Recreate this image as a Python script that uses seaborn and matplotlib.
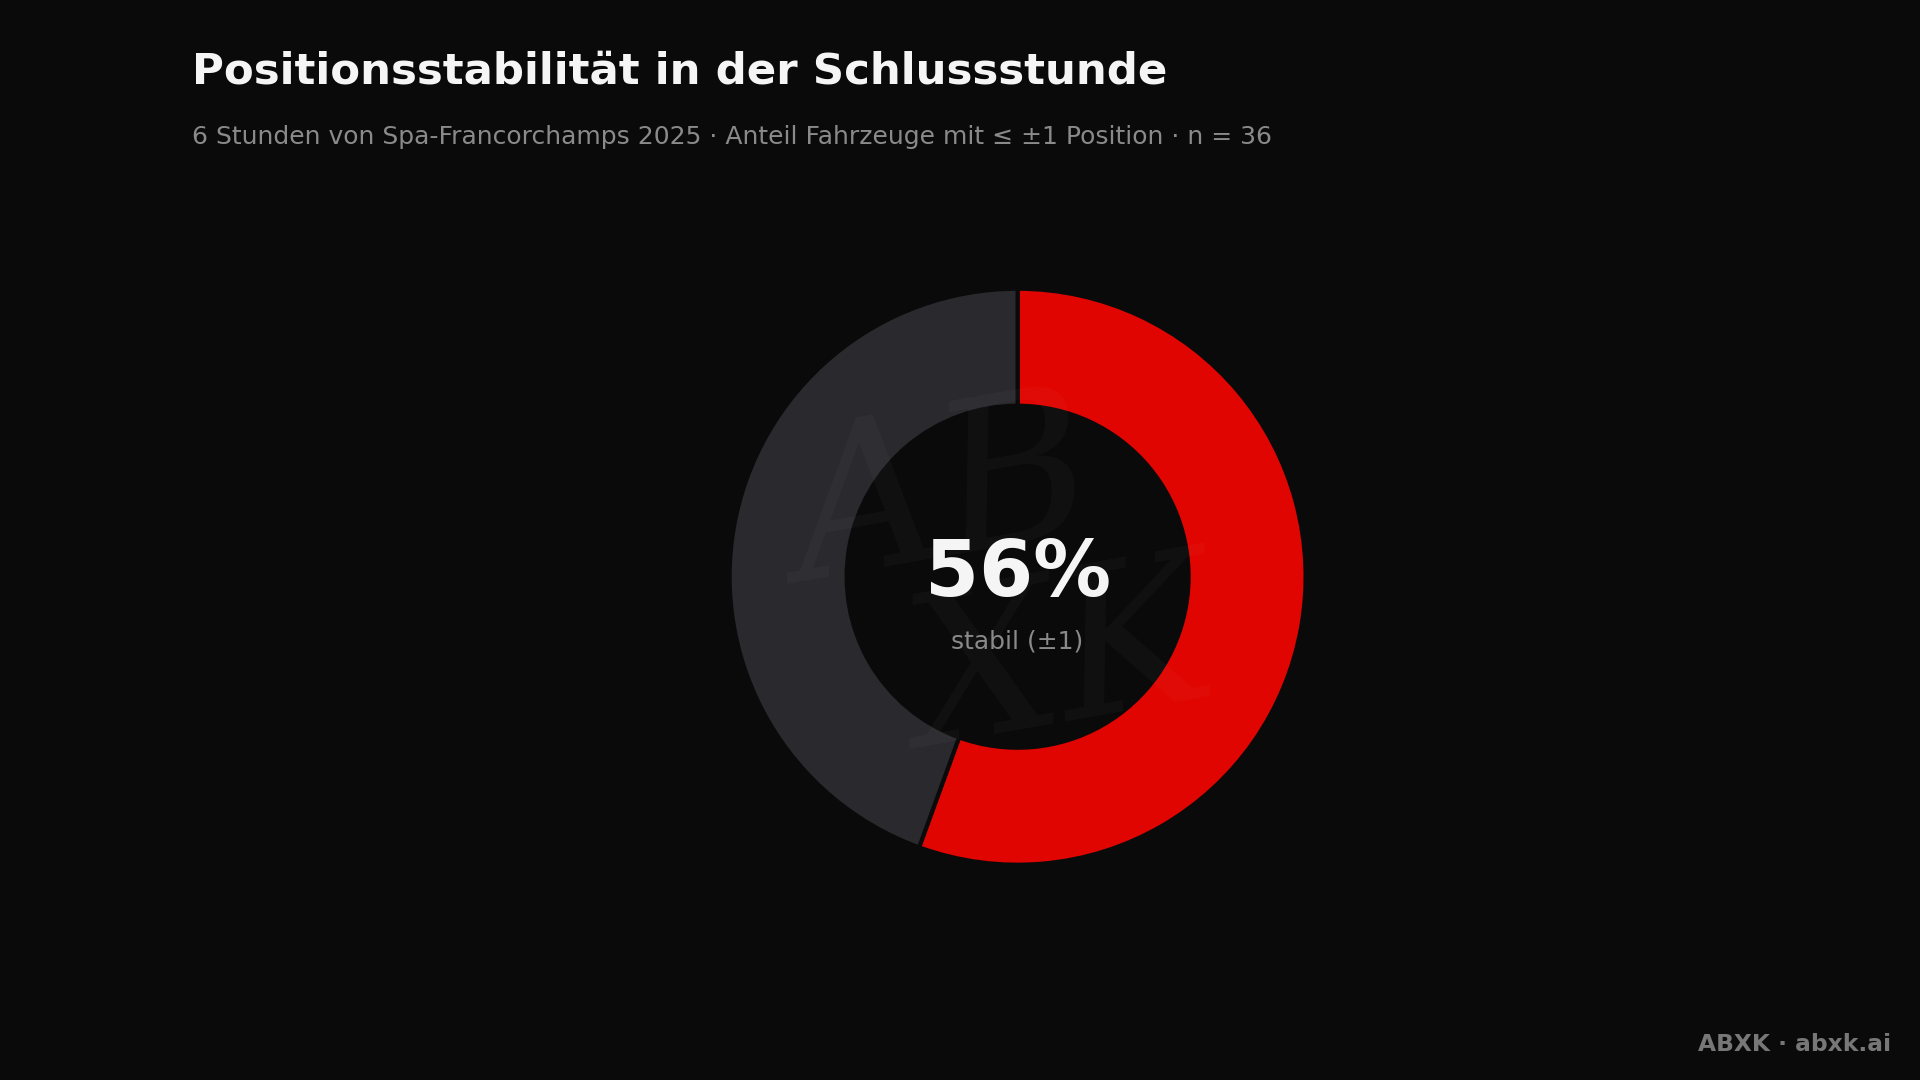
import matplotlib
matplotlib.use("Agg")
import matplotlib.pyplot as plt
import seaborn as sns

# data
labels = ["stabil (±1)", "bewegt"]
counts = [20, 16]
colors = ["#e00500", "#2a2a2e"]

sns.set_theme(style="dark")
plt.rcParams['font.family'] = ['DejaVu Sans']
bg = "#0a0a0b"

fig = plt.figure(figsize=(19.2, 10.8), dpi=100, facecolor=bg)
ax = fig.add_axes([0.530 - 0.15625, 0.466 - 0.2778, 0.3125, 0.5556])
ax.set_facecolor(bg)

ax.pie(counts, colors=colors, startangle=90, counterclock=False, radius=0.96,
       wedgeprops=dict(width=0.39, edgecolor=bg, linewidth=3))
ax.set_aspect('equal')
ax.set_xlim(-1, 1)
ax.set_ylim(-1, 1)
ax.axis('off')

# faint watermark
ax.text(-0.25, 0.25, "AB", fontsize=150, style='italic', color="#ffffff", alpha=0.03,
        ha='center', va='center', family='DejaVu Serif', rotation=10)
ax.text(0.15, -0.3, "XK", fontsize=150, style='italic', color="#ffffff", alpha=0.03,
        ha='center', va='center', family='DejaVu Serif', rotation=10)

share = round(100 * counts[0] / sum(counts))
ax.text(0, 0.01, f"{share}%", fontsize=56, fontweight='bold', color="#f5f5f5",
        ha='center', va='center')
ax.text(0, -0.215, labels[0], fontsize=18, color="#8a8a8a", ha='center', va='center')

fig.text(0.100, 0.934, "Positionsstabilität in der Schlussstunde", fontsize=31.3,
         fontweight='bold', color="#f5f5f5", ha='left', va='center')
fig.text(0.100, 0.873, "6 Stunden von Spa-Francorchamps 2025 · Anteil Fahrzeuge mit ≤ ±1 Position · n = 36",
         fontsize=18, color="#8a8a8a", ha='left', va='center')
fig.text(0.985, 0.033, "ABXK · abxk.ai", fontsize=16.8, fontweight='bold',
         color="#777777", ha='right', va='center')

fig.savefig("out.png", dpi=100, facecolor=bg)
